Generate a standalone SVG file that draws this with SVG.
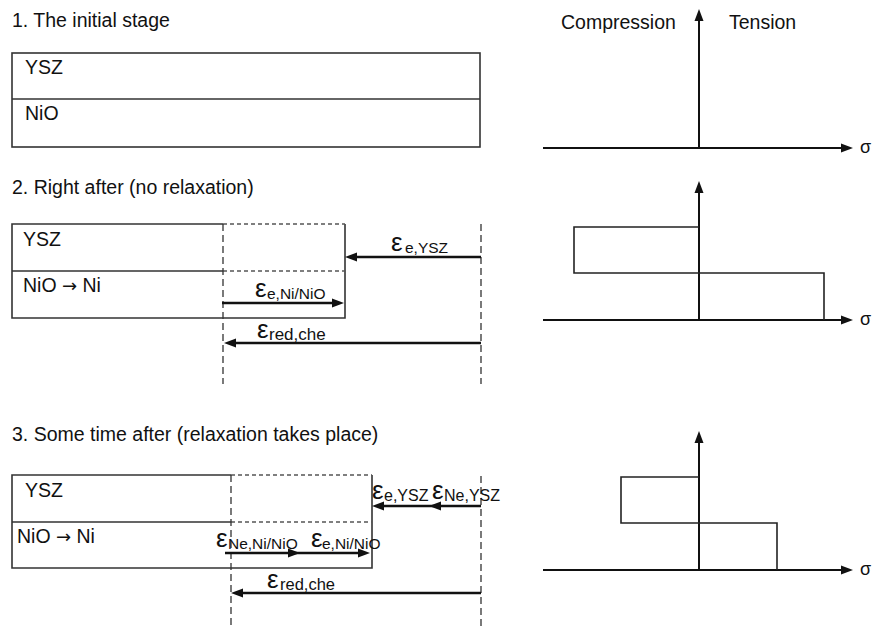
<svg xmlns="http://www.w3.org/2000/svg" width="873" height="626" viewBox="0 0 873 626">
<style>
text{font-family:"Liberation Sans",Arial,sans-serif;fill:#111}
.t{font-size:19.5px}
.ar{font-family:"DejaVu Sans",sans-serif;font-size:18px}
.sig{font-size:18px}
.eps{font-size:26px}
.sub{font-size:15.5px}
.box{fill:none;stroke:#333;stroke-width:1.6}
.dbox{fill:none;stroke:#555;stroke-width:1.3;stroke-dasharray:4 3}
.dv{fill:none;stroke:#333;stroke-width:1.3;stroke-dasharray:7 4}
.arr{fill:none;stroke:#111;stroke-width:2.6;marker-end:url(#ah)}
.ax{fill:none;stroke:#111;stroke-width:2;marker-end:url(#ax)}
.gr{fill:none;stroke:#222;stroke-width:1.6}
</style>
<defs>
<marker id="ah" markerUnits="userSpaceOnUse" markerWidth="14" markerHeight="12" viewBox="0 -6 14 12" refX="4" refY="0" orient="auto"><path d="M0,-4.5 L12,0 L0,4.5 z" fill="#111"/></marker>
<marker id="ax" markerUnits="userSpaceOnUse" markerWidth="14" markerHeight="12" viewBox="0 -6 14 12" refX="3" refY="0" orient="auto"><path d="M0,-4.5 L12,0 L0,4.5 z" fill="#111"/></marker>
</defs>
<rect width="873" height="626" fill="#fff"/>

<g id="stage1">
<text class="t" x="12" y="27">1. The initial stage</text>
<rect class="box" x="12" y="53" width="468" height="94"/>
<line class="box" x1="12" y1="99" x2="480" y2="99"/>
<text class="t" x="25" y="74">YSZ</text>
<text class="t" x="25" y="120">NiO</text>
</g>

<g id="stage2">
<text class="t" x="12" y="194">2. Right after (no relaxation)</text>
<path class="box" d="M223,224 H12 V318 H345 V224 M12,271 H223"/>
<path class="dbox" d="M223,224 H345 M223,271 H345"/>
<line class="dv" x1="223" y1="224" x2="223" y2="384"/>
<line class="dv" x1="481" y1="224" x2="481" y2="384"/>
<text class="t" x="23" y="246">YSZ</text>
<text class="t" x="23" y="292">NiO <tspan class="ar">→</tspan> Ni</text>
</g>

<g id="stage3">
<text class="t" x="12" y="441">3. Some time after (relaxation takes place)</text>
<path class="box" d="M231,475 H12 V568 H372 V475 M12,522 H231"/>
<path class="dbox" d="M231,475 H372 M231,522 H372"/>
<line class="dv" x1="231" y1="475" x2="231" y2="626"/>
<line class="dv" x1="481" y1="476" x2="481" y2="626"/>
<text class="t" x="25" y="497">YSZ</text>
<text class="t" x="17" y="543">NiO <tspan class="ar">→</tspan> Ni</text>
</g>

<g id="labels2">
<text class="eps" x="391" y="251">ε</text><text class="sub" x="405" y="253">e,YSZ</text>
<text class="eps" x="255" y="297">ε</text><text class="sub" x="267" y="299">e,Ni/NiO</text>
<text class="eps" x="257" y="338">ε</text><text class="sub" x="269" y="340" style="font-size:17px">red,che</text>
</g>

<g id="labels3">
<text class="eps" x="372" y="499">ε</text><text class="sub" x="384" y="501" style="font-size:16px">e,YSZ</text>
<text class="eps" x="432" y="499">ε</text><text class="sub" x="444" y="501" style="font-size:16px">Ne,YSZ</text>
<text class="eps" x="216" y="547">ε</text><text class="sub" x="228" y="549">Ne,Ni/NiO</text>
<text class="eps" x="311" y="547">ε</text><text class="sub" x="322" y="549">e,Ni/NiO</text>
<text class="eps" x="267" y="588">ε</text><text class="sub" x="280" y="590" style="font-size:16.5px">red,che</text>
</g>

<g id="connectors">
<path class="arr" d="M481,257 H353"/>
<path class="arr" d="M222,303 H336"/>
<path class="arr" d="M481,343 H232"/>
<path class="arr" d="M481,506 H437"/>
<path class="arr" d="M437,506 H380"/>
<path class="arr" d="M225,553 H292"/>
<path class="arr" d="M292,553 H362"/>
<path class="arr" d="M481,593 H239"/>
</g>

<g id="graph1">
<path class="ax" d="M699,148 V18"/>
<path class="ax" d="M543,148 H844"/>
<text class="t" x="561" y="29">Compression</text>
<text class="t" x="729" y="29">Tension</text>
<text class="sig" x="860" y="153">σ</text>
</g>

<g id="graph2">
<path class="ax" d="M699,320 V190"/>
<path class="ax" d="M543,320 H844"/>
<path class="gr" d="M699,227 H574 V273 H824 V320"/>
<text class="sig" x="860" y="325">σ</text>
</g>

<g id="graph3">
<path class="ax" d="M699,570 V440"/>
<path class="ax" d="M543,570 H844"/>
<path class="gr" d="M699,477 H621 V523 H777 V570"/>
<text class="sig" x="860" y="575">σ</text>
</g>
</svg>
